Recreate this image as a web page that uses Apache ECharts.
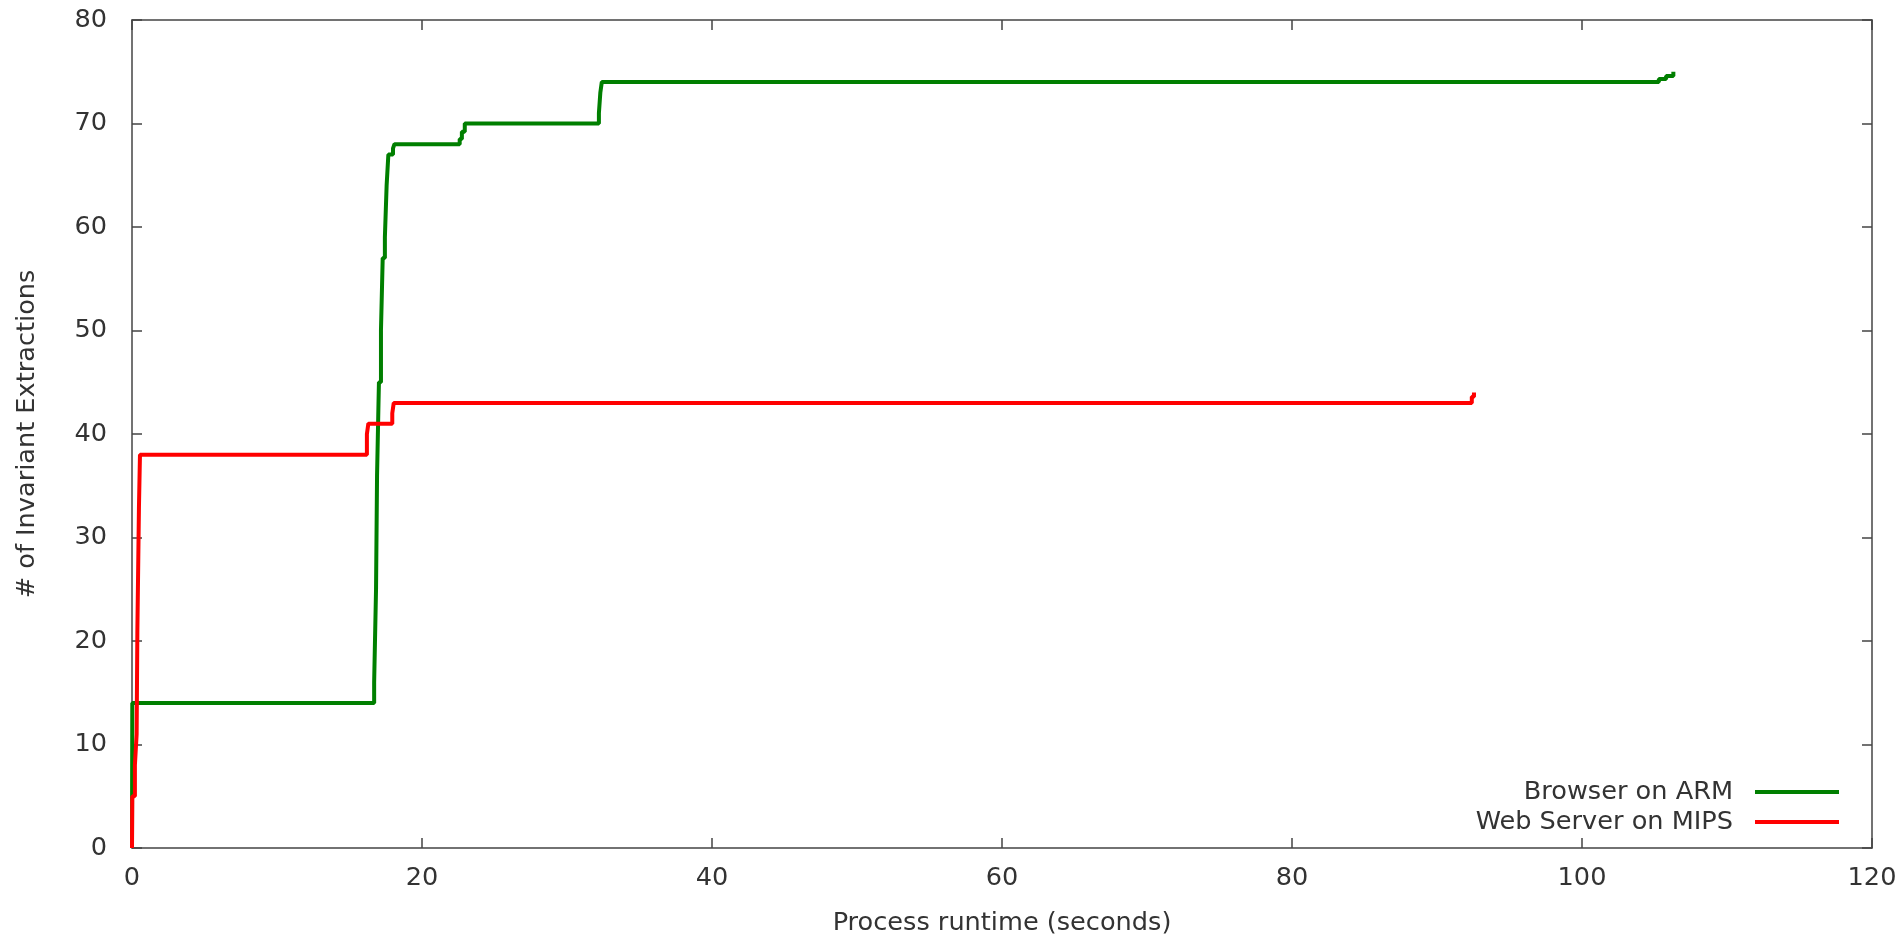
<!DOCTYPE html>
<html>
<head>
<meta charset="utf-8">
<script src="https://cdn.jsdelivr.net/npm/echarts@6/dist/echarts.min.js"></script>
<style>
html,body{margin:0;padding:0;background:#fff;}
#chart{width:1899px;height:935px;}
</style>
</head>
<body>
<div id="chart"></div>
<script>
// ---- data (x = process runtime in seconds, y = # of invariant extractions) ----
const seriesNames = ['Browser on ARM', 'Web Server on MIPS'];
const browserArm = [
  [0, 0], [0.02, 14], [16.7, 16], [16.83, 25], [16.9, 36], [17.0, 43], [17.03, 45],
  [17.17, 50], [17.29, 57], [17.44, 59], [17.56, 64], [17.68, 67], [18.0, 67.6],
  [18.1, 68], [22.6, 68.5], [22.75, 69.2], [22.95, 70], [32.2, 71], [32.3, 73],
  [32.4, 74], [105.3, 74.3], [105.8, 74.6], [106.3, 75]
];
const webServerMips = [
  [0, 0], [0.02, 5], [0.2, 8], [0.32, 11], [0.37, 21], [0.48, 33], [0.55, 38],
  [16.2, 40], [16.3, 41], [17.95, 42], [18.05, 43], [92.4, 43.6], [92.55, 44]
];
const xRange = { min: 0, max: 120, interval: 20 };
const yRange = { min: 0, max: 80, interval: 10 };
const xTitle = 'Process runtime (seconds)';
const yTitle = '# of Invariant Extractions';

const FONT = 'DejaVu Sans';
const FS = 25.6;
const TXT = '#333333';
const AX = '#444444';
const colors = ['#007f00', '#ff0000'];

const chart = echarts.init(document.getElementById('chart'), null, { renderer: 'canvas' });

function mkAxis(extra) {
  return Object.assign({
    type: 'value',
    splitLine: { show: false },
    axisLine: { show: true, onZero: false, lineStyle: { color: AX, width: 1.5 } },
    axisTick: { show: true, inside: true, length: 10, lineStyle: { color: AX, width: 1.5 } },
    axisLabel: { show: true, color: TXT, fontFamily: FONT, fontSize: FS }
  }, extra);
}

const option = {
  animation: false,
  backgroundColor: '#ffffff',
  grid: { left: 132, right: 27, top: 20, bottom: 87, containLabel: false, outerBoundsMode: 'none' },
  xAxis: [
    mkAxis({
      position: 'bottom', min: xRange.min, max: xRange.max, interval: xRange.interval,
      name: xTitle, nameLocation: 'middle', nameGap: 62,
      nameTextStyle: { color: TXT, fontFamily: FONT, fontSize: FS },
      axisLabel: { show: true, color: TXT, fontFamily: FONT, fontSize: FS, margin: 17 }
    }),
    mkAxis({
      position: 'top', min: xRange.min, max: xRange.max, interval: xRange.interval,
      axisLabel: { show: false }
    })
  ],
  yAxis: [
    mkAxis({
      position: 'left', min: yRange.min, max: yRange.max, interval: yRange.interval,
      name: yTitle, nameLocation: 'middle', nameGap: 92,
      nameTextStyle: { color: TXT, fontFamily: FONT, fontSize: FS },
      axisLabel: { show: true, color: TXT, fontFamily: FONT, fontSize: FS, margin: 25 }
    }),
    mkAxis({
      position: 'right', min: yRange.min, max: yRange.max, interval: yRange.interval,
      axisLabel: { show: false }
    })
  ],
  legend: {
    orient: 'vertical',
    align: 'right',
    right: 60,
    top: 777,
    padding: 0,
    itemGap: 0,
    itemWidth: 84,
    itemHeight: 4,
    icon: 'rect',
    textStyle: { color: TXT, fontFamily: FONT, fontSize: FS, lineHeight: 30, padding: [0, 17, 0, 0] },
    data: seriesNames
  },
  series: [
    {
      name: seriesNames[0], type: 'line', step: 'end', data: browserArm,
      xAxisIndex: 0, yAxisIndex: 0, showSymbol: false, symbol: 'none',
      lineStyle: { color: colors[0], width: 4 }, itemStyle: { color: colors[0] }
    },
    {
      name: seriesNames[1], type: 'line', step: 'end', data: webServerMips,
      xAxisIndex: 0, yAxisIndex: 0, showSymbol: false, symbol: 'none',
      lineStyle: { color: colors[1], width: 4 }, itemStyle: { color: colors[1] }
    }
  ]
};
chart.setOption(option);
</script>
</body>
</html>
